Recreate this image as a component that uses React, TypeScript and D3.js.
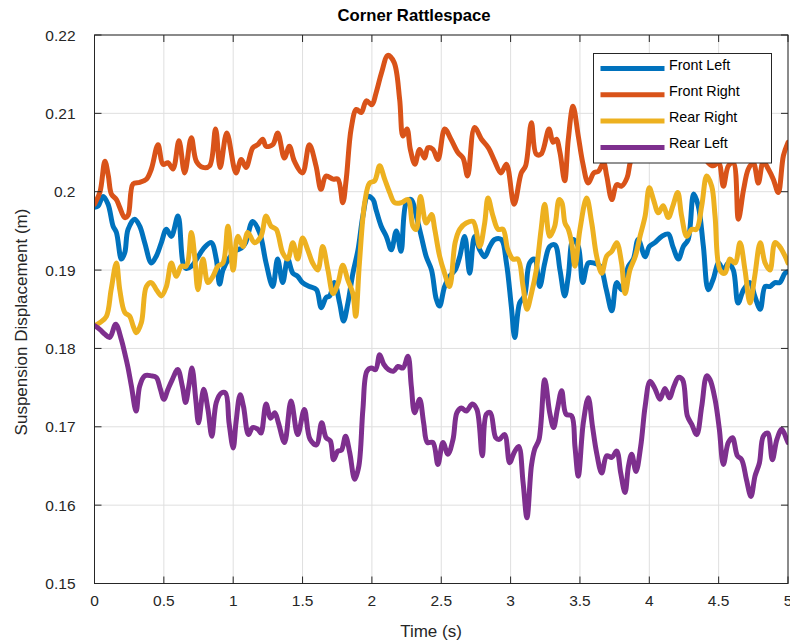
import React, { useEffect } from "react";
import * as d3 from "d3";

const xTicks = [0, 0.5, 1, 1.5, 2, 2.5, 3, 3.5, 4, 4.5, 5];
const yTicks = [0.15, 0.16, 0.17, 0.18, 0.19, 0.2, 0.21, 0.22];
const seriesNames = ["Front Left", "Front Right", "Rear Right", "Rear Left"];
const seriesColors = ["#0072BD", "#D95319", "#EDB120", "#7E2F8E"];

const frontLeft: [number, number][] = [
  [0, 0.198], [0.027, 0.1982], [0.062, 0.1994], [0.098, 0.1984], [0.134, 0.1956], [0.158, 0.1948],
  [0.194, 0.1914], [0.218, 0.1922], [0.242, 0.1952], [0.29, 0.1965], [0.326, 0.1956], [0.362, 0.1935],
  [0.41, 0.1909], [0.446, 0.1918], [0.482, 0.1935], [0.518, 0.1952], [0.554, 0.1943], [0.602, 0.1969],
  [0.638, 0.1909], [0.66, 0.1902], [0.7, 0.1905], [0.74, 0.1915], [0.794, 0.1929], [0.842, 0.1935],
  [0.878, 0.1914], [0.902, 0.1882], [0.926, 0.19], [0.97, 0.1915], [1.02, 0.1925], [1.06, 0.1928],
  [1.09, 0.1935], [1.14, 0.1962], [1.19, 0.1948], [1.237, 0.1909], [1.285, 0.1879], [1.32, 0.1914],
  [1.357, 0.1884], [1.393, 0.1914], [1.43, 0.1896], [1.465, 0.1892], [1.5, 0.1884], [1.55, 0.1879],
  [1.6, 0.1875], [1.635, 0.1852], [1.67, 0.1865], [1.695, 0.1867], [1.73, 0.1884], [1.767, 0.1858],
  [1.796, 0.1835], [1.827, 0.1858], [1.863, 0.1896], [1.9, 0.1926], [1.935, 0.1969], [1.97, 0.1994],
  [2.008, 0.199], [2.03, 0.1977], [2.067, 0.1956], [2.104, 0.1943], [2.14, 0.1926], [2.176, 0.195],
  [2.21, 0.1924], [2.248, 0.1986], [2.284, 0.199], [2.32, 0.1969], [2.356, 0.1943], [2.392, 0.1917],
  [2.43, 0.19], [2.464, 0.1863], [2.488, 0.1854], [2.524, 0.1879], [2.56, 0.1892], [2.6, 0.19],
  [2.633, 0.1917], [2.669, 0.1943], [2.705, 0.1896], [2.74, 0.1943], [2.777, 0.1926], [2.813, 0.1917],
  [2.85, 0.193], [2.885, 0.1939], [2.933, 0.1939], [2.97, 0.1909], [3.005, 0.1854], [3.03, 0.1814],
  [3.065, 0.1858], [3.1, 0.1867], [3.137, 0.1909], [3.173, 0.1914], [3.21, 0.1879], [3.246, 0.1909],
  [3.282, 0.193], [3.32, 0.1932], [3.356, 0.19], [3.39, 0.1867], [3.416, 0.1892], [3.45, 0.1939],
  [3.488, 0.193], [3.52, 0.1884], [3.56, 0.1909], [3.6, 0.1909], [3.645, 0.1905], [3.69, 0.1875],
  [3.73, 0.1848], [3.765, 0.1884], [3.8, 0.1875], [3.85, 0.1905], [3.885, 0.1914], [3.92, 0.1939],
  [3.97, 0.1917], [4.0, 0.193], [4.04, 0.1935], [4.09, 0.1943], [4.137, 0.1946], [4.17, 0.193],
  [4.21, 0.1914], [4.245, 0.193], [4.28, 0.1939], [4.32, 0.1997], [4.353, 0.1982], [4.39, 0.193],
  [4.425, 0.1875], [4.46, 0.1888], [4.5, 0.1909], [4.534, 0.19], [4.57, 0.1909], [4.606, 0.19],
  [4.64, 0.1858], [4.68, 0.1875], [4.726, 0.1884], [4.76, 0.1867], [4.8, 0.185], [4.835, 0.1879],
  [4.87, 0.1879], [4.906, 0.1884], [4.94, 0.1884], [4.978, 0.1896], [5.0, 0.1898],
];

const frontRight: [number, number][] = [
  [0, 0.1984], [0.04, 0.2], [0.075, 0.2039], [0.1, 0.202], [0.122, 0.1997], [0.158, 0.199],
  [0.182, 0.198], [0.218, 0.1967], [0.242, 0.197], [0.278, 0.201], [0.326, 0.2012], [0.374, 0.2016],
  [0.41, 0.2029], [0.458, 0.206], [0.494, 0.2035], [0.53, 0.2037], [0.566, 0.2029], [0.609, 0.2065],
  [0.65, 0.2024], [0.698, 0.2069], [0.734, 0.2039], [0.782, 0.2031], [0.83, 0.2033], [0.873, 0.208],
  [0.906, 0.2031], [0.954, 0.2075], [1.02, 0.2024], [1.058, 0.2041], [1.093, 0.2031], [1.141, 0.2056],
  [1.177, 0.206], [1.213, 0.2067], [1.237, 0.2058], [1.285, 0.206], [1.321, 0.2075], [1.369, 0.2043],
  [1.405, 0.2058], [1.441, 0.2039], [1.5, 0.2024], [1.549, 0.206], [1.597, 0.2033], [1.633, 0.2003],
  [1.669, 0.202], [1.72, 0.2016], [1.755, 0.2016], [1.79, 0.1986], [1.815, 0.2016], [1.85, 0.208],
  [1.888, 0.2105], [1.923, 0.2101], [1.96, 0.2116], [2.0, 0.2111], [2.03, 0.2126], [2.07, 0.2152],
  [2.115, 0.2174], [2.16, 0.2165], [2.2, 0.2118], [2.224, 0.2071], [2.253, 0.208], [2.277, 0.2054],
  [2.31, 0.2035], [2.344, 0.2054], [2.38, 0.2043], [2.404, 0.2056], [2.44, 0.2054], [2.476, 0.2041],
  [2.525, 0.208], [2.57, 0.2067], [2.62, 0.205], [2.657, 0.2043], [2.69, 0.202], [2.74, 0.2082],
  [2.79, 0.2067], [2.84, 0.2056], [2.885, 0.2039], [2.93, 0.2024], [2.97, 0.2035], [3.025, 0.1984],
  [3.077, 0.2024], [3.108, 0.2033], [3.15, 0.2088], [3.185, 0.2048], [3.22, 0.2048], [3.277, 0.208],
  [3.306, 0.2063], [3.33, 0.2067], [3.356, 0.205], [3.39, 0.2014], [3.416, 0.2067], [3.45, 0.2109],
  [3.488, 0.2071], [3.52, 0.2037], [3.56, 0.2011], [3.6, 0.2024], [3.633, 0.2026], [3.67, 0.2037],
  [3.693, 0.202], [3.73, 0.199], [3.765, 0.2009], [3.8, 0.2007], [3.84, 0.2018], [3.862, 0.2037],
  [3.9, 0.2055], [3.96, 0.2068], [4.02, 0.205], [4.08, 0.2072], [4.14, 0.206], [4.2, 0.2075],
  [4.26, 0.2058], [4.32, 0.2066], [4.38, 0.2052], [4.425, 0.2037], [4.462, 0.2033], [4.5, 0.2037],
  [4.534, 0.2007], [4.57, 0.2033], [4.606, 0.2037], [4.642, 0.1965], [4.68, 0.2003], [4.714, 0.2029],
  [4.75, 0.2037], [4.786, 0.2011], [4.822, 0.2039], [4.858, 0.2029], [4.894, 0.2016], [4.93, 0.1999],
  [4.967, 0.2046], [5.0, 0.2063],
];

const rearRight: [number, number][] = [
  [0, 0.1829], [0.04, 0.1833], [0.086, 0.1841], [0.12, 0.1875], [0.158, 0.1909], [0.182, 0.1875],
  [0.218, 0.1846], [0.254, 0.1841], [0.278, 0.1829], [0.302, 0.182], [0.338, 0.1833], [0.374, 0.1879],
  [0.41, 0.1884], [0.446, 0.1875], [0.482, 0.1867], [0.518, 0.1879], [0.554, 0.1909], [0.59, 0.1892],
  [0.626, 0.1905], [0.662, 0.1905], [0.698, 0.1948], [0.722, 0.1918], [0.746, 0.1875], [0.782, 0.1914],
  [0.818, 0.1884], [0.854, 0.1892], [0.89, 0.1905], [0.926, 0.1909], [0.962, 0.1956], [1.0, 0.19],
  [1.033, 0.1943], [1.07, 0.193], [1.105, 0.1948], [1.153, 0.1935], [1.2, 0.1943], [1.237, 0.1969],
  [1.273, 0.1956], [1.31, 0.1952], [1.357, 0.1922], [1.393, 0.1914], [1.43, 0.1935], [1.465, 0.1914],
  [1.5, 0.1941], [1.537, 0.1926], [1.573, 0.1909], [1.61, 0.19], [1.645, 0.193], [1.683, 0.19],
  [1.72, 0.187], [1.755, 0.1883], [1.79, 0.1906], [1.827, 0.1887], [1.863, 0.187], [1.883, 0.1841],
  [1.91, 0.1909], [1.948, 0.1986], [1.983, 0.2011], [2.02, 0.2014], [2.056, 0.2033], [2.092, 0.2016],
  [2.128, 0.1999], [2.164, 0.1986], [2.212, 0.1986], [2.26, 0.199], [2.296, 0.1956], [2.32, 0.1952],
  [2.35, 0.1994], [2.392, 0.196], [2.43, 0.1971], [2.453, 0.1952], [2.488, 0.1918], [2.524, 0.1896],
  [2.56, 0.1879], [2.6, 0.1935], [2.633, 0.1952], [2.68, 0.196], [2.73, 0.1962], [2.777, 0.193],
  [2.813, 0.196], [2.837, 0.1992], [2.873, 0.1969], [2.91, 0.1952], [2.945, 0.1952], [2.98, 0.1926],
  [3.017, 0.1914], [3.053, 0.1914], [3.09, 0.1879], [3.118, 0.185], [3.15, 0.187], [3.185, 0.19],
  [3.22, 0.1952], [3.246, 0.1984], [3.282, 0.1943], [3.318, 0.1956], [3.35, 0.199], [3.37, 0.1986],
  [3.392, 0.196], [3.416, 0.1952], [3.44, 0.1935], [3.464, 0.1905], [3.5, 0.1952], [3.548, 0.1992],
  [3.585, 0.196], [3.62, 0.1918], [3.657, 0.1896], [3.693, 0.1918], [3.73, 0.1924], [3.765, 0.1935],
  [3.8, 0.1909], [3.825, 0.187], [3.86, 0.19], [3.9, 0.1918], [3.933, 0.1943], [3.97, 0.1969],
  [4.0, 0.2005], [4.03, 0.199], [4.065, 0.1973], [4.1, 0.1982], [4.137, 0.1967], [4.17, 0.1982],
  [4.205, 0.1999], [4.233, 0.1969], [4.27, 0.1943], [4.306, 0.1952], [4.34, 0.1952], [4.378, 0.1982],
  [4.414, 0.202], [4.45, 0.2007], [4.474, 0.1969], [4.51, 0.19], [4.546, 0.1896], [4.58, 0.1914],
  [4.618, 0.1909], [4.654, 0.1935], [4.69, 0.19], [4.726, 0.1858], [4.76, 0.1892], [4.8, 0.1935],
  [4.835, 0.1909], [4.87, 0.19], [4.906, 0.1935], [4.94, 0.193], [4.978, 0.1918], [5.0, 0.1909],
];

const rearLeft: [number, number][] = [
  [0, 0.1829], [0.04, 0.1824], [0.075, 0.1818], [0.11, 0.1814], [0.153, 0.1831], [0.194, 0.1811],
  [0.218, 0.1794], [0.24, 0.1777], [0.266, 0.1752], [0.3, 0.172], [0.326, 0.1752], [0.362, 0.1765],
  [0.41, 0.1765], [0.446, 0.1763], [0.475, 0.1748], [0.5, 0.1735], [0.53, 0.1748], [0.56, 0.176],
  [0.6, 0.1773], [0.633, 0.1752], [0.657, 0.1731], [0.68, 0.1752], [0.703, 0.1775], [0.73, 0.1735],
  [0.75, 0.1705], [0.787, 0.1748], [0.818, 0.1722], [0.846, 0.1688], [0.878, 0.1731], [0.914, 0.1743],
  [0.945, 0.1743], [0.97, 0.1705], [1.0, 0.1673], [1.02, 0.1705], [1.05, 0.1741], [1.074, 0.1726],
  [1.11, 0.169], [1.14, 0.1699], [1.177, 0.1697], [1.2, 0.1692], [1.237, 0.1729], [1.27, 0.1711],
  [1.3, 0.1718], [1.326, 0.1705], [1.37, 0.168], [1.417, 0.1733], [1.465, 0.169], [1.513, 0.1722],
  [1.554, 0.1684], [1.6, 0.1677], [1.638, 0.1705], [1.67, 0.1686], [1.7, 0.1682], [1.724, 0.1658],
  [1.755, 0.1669], [1.78, 0.167], [1.81, 0.1688], [1.84, 0.1667], [1.876, 0.1633], [1.906, 0.165],
  [1.935, 0.1722], [1.964, 0.1771], [1.996, 0.1775], [2.027, 0.1773], [2.056, 0.1792], [2.085, 0.178],
  [2.12, 0.1773], [2.157, 0.1771], [2.188, 0.1777], [2.224, 0.1775], [2.26, 0.179], [2.284, 0.1752],
  [2.308, 0.1718], [2.344, 0.1735], [2.373, 0.1705], [2.4, 0.168], [2.44, 0.168], [2.476, 0.1652],
  [2.512, 0.168], [2.548, 0.1665], [2.585, 0.1684], [2.613, 0.1718], [2.645, 0.1724], [2.68, 0.172],
  [2.724, 0.1729], [2.757, 0.1722], [2.796, 0.1663], [2.825, 0.1716], [2.854, 0.1718], [2.893, 0.1686],
  [2.92, 0.1684], [2.957, 0.169], [2.993, 0.1654], [3.025, 0.1667], [3.058, 0.1675], [3.09, 0.1629],
  [3.118, 0.1584], [3.15, 0.165], [3.173, 0.1671], [3.205, 0.1684], [3.246, 0.176], [3.282, 0.1718],
  [3.31, 0.1699], [3.337, 0.1722], [3.368, 0.1746], [3.4, 0.1716], [3.44, 0.1714], [3.464, 0.1675],
  [3.488, 0.1637], [3.524, 0.1705], [3.56, 0.1737], [3.59, 0.1701], [3.62, 0.1667], [3.657, 0.1641],
  [3.693, 0.1663], [3.73, 0.1661], [3.765, 0.1669], [3.794, 0.1641], [3.825, 0.1616], [3.85, 0.165],
  [3.873, 0.1665], [3.904, 0.1643], [3.938, 0.1675], [3.97, 0.1726], [4.005, 0.1758], [4.04, 0.1749],
  [4.077, 0.1735], [4.113, 0.1749], [4.145, 0.1737], [4.178, 0.1752], [4.21, 0.1763], [4.24, 0.176],
  [4.274, 0.1714], [4.306, 0.1703], [4.342, 0.169], [4.378, 0.1726], [4.414, 0.1765], [4.438, 0.176],
  [4.474, 0.1735], [4.505, 0.1697], [4.534, 0.1652], [4.57, 0.168], [4.6, 0.1686], [4.635, 0.1663],
  [4.666, 0.1658], [4.7, 0.1633], [4.733, 0.1611], [4.762, 0.1637], [4.794, 0.1654], [4.822, 0.1688],
  [4.854, 0.1692], [4.887, 0.1658], [4.92, 0.1684], [4.955, 0.1697], [4.99, 0.1684], [5.0, 0.168],
];

const allSeries = [frontLeft, frontRight, rearRight, rearLeft];

const W = 790;
const H = 643;
const M = { left: 94.5, top: 35, right: 788, bottom: 583.5 };
const FONT = "'Liberation Sans', Arial, Helvetica, sans-serif";
const INK = "#262626";

export default function App() {
  useEffect(() => {
    document.body.style.margin = "0";
  }, []);

  const x = d3.scaleLinear().domain([0, 5]).range([M.left, M.right]);
  const y = d3.scaleLinear().domain([0.15, 0.22]).range([M.bottom, M.top]);
  const line = d3
    .line<[number, number]>()
    .x((d) => x(d[0]))
    .y((d) => y(d[1]))
    .curve(d3.curveCatmullRom.alpha(0.5));

  const legX = 593.5;
  const legY = 53.5;
  const legW = 178;
  const legH = 109.5;

  return (
    <svg width={W} height={H} style={{ display: "block", background: "#fff" }} fontFamily={FONT}>
      <defs>
        <clipPath id="plotClip">
          <rect x={M.left} y={M.top} width={M.right - M.left} height={M.bottom - M.top} />
        </clipPath>
      </defs>
      <rect x={M.left} y={M.top} width={M.right - M.left} height={M.bottom - M.top} fill="#fff" />
      {/* grid */}
      <g stroke="#dfdfdf" strokeWidth={1}>
        {xTicks.map((t) => (
          <line key={"gx" + t} x1={x(t)} x2={x(t)} y1={M.top} y2={M.bottom} />
        ))}
        {yTicks.map((t) => (
          <line key={"gy" + t} x1={M.left} x2={M.right} y1={y(t)} y2={y(t)} />
        ))}
      </g>
      {/* series */}
      <g clipPath="url(#plotClip)" fill="none" strokeWidth={5} strokeLinejoin="round" strokeLinecap="round">
        {allSeries.map((s, i) => (
          <path key={seriesNames[i]} d={line(s) || ""} stroke={seriesColors[i]} />
        ))}
      </g>
      {/* box & ticks */}
      <g stroke={INK} strokeWidth={1} fill="none">
        <rect x={M.left} y={M.top} width={M.right - M.left} height={M.bottom - M.top} />
        {xTicks.map((t) => (
          <g key={"tx" + t}>
            <line x1={x(t)} x2={x(t)} y1={M.bottom} y2={M.bottom - 7} />
            <line x1={x(t)} x2={x(t)} y1={M.top} y2={M.top + 7} />
          </g>
        ))}
        {yTicks.map((t) => (
          <g key={"ty" + t}>
            <line x1={M.left} x2={M.left + 7} y1={y(t)} y2={y(t)} />
            <line x1={M.right} x2={M.right - 7} y1={y(t)} y2={y(t)} />
          </g>
        ))}
      </g>
      {/* tick labels */}
      <g fill={INK} fontSize={15.5}>
        {xTicks.map((t) => (
          <text key={"lx" + t} x={x(t)} y={M.bottom + 22} textAnchor="middle">
            {d3.format("")(t)}
          </text>
        ))}
        {yTicks.map((t) => (
          <text key={"ly" + t} x={M.left - 19} y={y(t) + 5.5} textAnchor="end">
            {d3.format("")(+t.toFixed(2))}
          </text>
        ))}
      </g>
      {/* axis labels */}
      <text x={431} y={637} textAnchor="middle" fontSize={17} fill={INK}>
        Time (s)
      </text>
      <text
        transform={`translate(27,322) rotate(-90)`}
        textAnchor="middle"
        fontSize={17}
        fill={INK}
      >
        Suspension Displacement (m)
      </text>
      <text x={414} y={20.5} textAnchor="middle" fontSize={16.7} fontWeight="bold" fill="#000">
        Corner Rattlespace
      </text>
      {/* legend */}
      <g>
        <rect x={legX} y={legY} width={legW} height={legH} fill="#fff" stroke={INK} strokeWidth={1} />
        {seriesNames.map((n, i) => (
          <g key={"leg" + n}>
            <line
              x1={legX + 7}
              x2={legX + 71}
              y1={legY + 15 + i * 26.3}
              y2={legY + 15 + i * 26.3}
              stroke={seriesColors[i]}
              strokeWidth={5}
            />
            <text x={legX + 75.5} y={legY + 16 + i * 26.3} fontSize={14.3} fill="#000">
              {n}
            </text>
          </g>
        ))}
      </g>
    </svg>
  );
}
